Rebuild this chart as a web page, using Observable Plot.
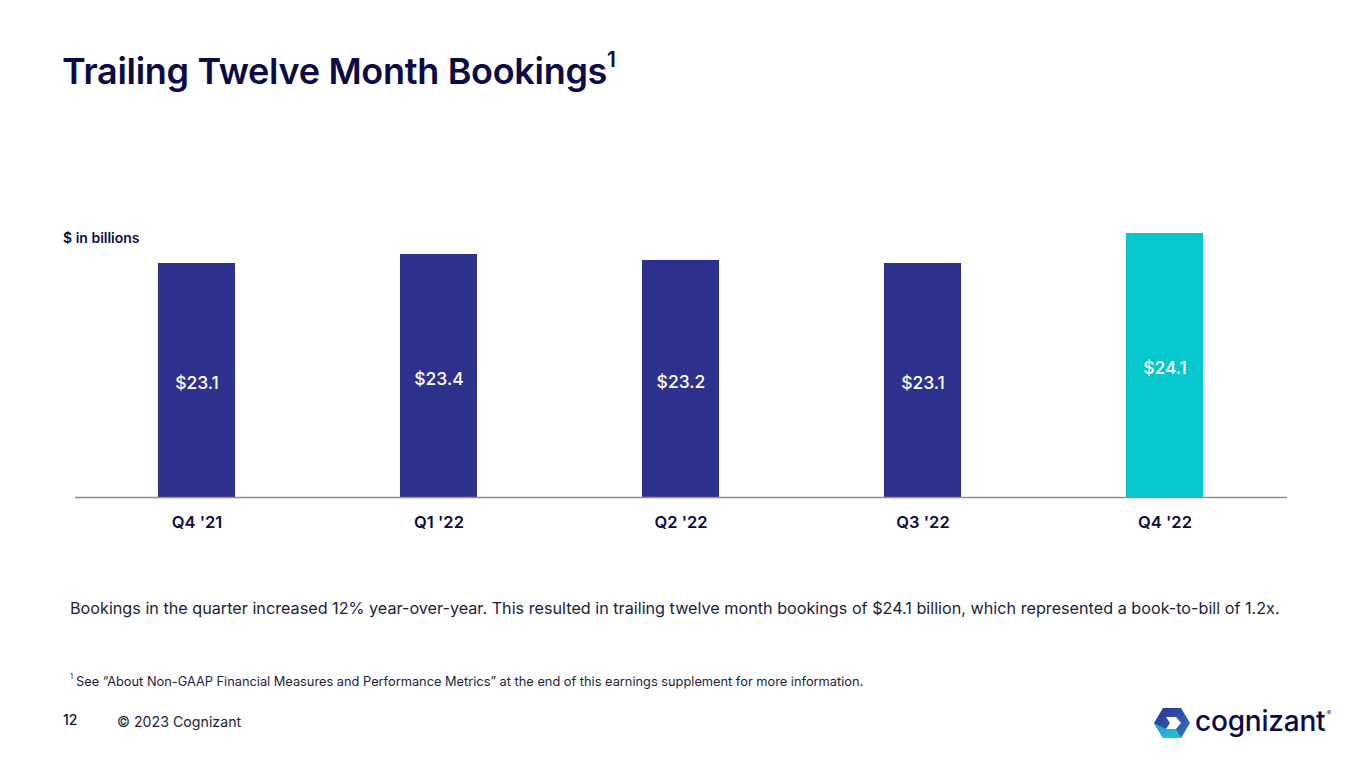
<!DOCTYPE html>
<html>
<head>
<meta charset="utf-8">
<script src="https://cdn.jsdelivr.net/npm/d3@7"></script>
<script src="https://cdn.jsdelivr.net/npm/@observablehq/plot@0.6"></script>
<style>
  html, body { margin: 0; padding: 0; background: #fff; }
  body { width: 1365px; height: 768px; position: relative; overflow: hidden; font-family: Inter, "Noto Sans", sans-serif; color: #0b0b45; }
  .abs { position: absolute; white-space: nowrap; }
  #title { left: 62px; top: 49px; font-size: 36px; font-weight: 600; letter-spacing: -0.3px; color: #0b0b45; }
  #title sup { font-size: 21px; position: relative; top: -4px; }
  #unit { left: 63px; top: 229px; font-size: 14px; font-weight: 600; color: #0b0b45; }
  #chart { left: 0; top: 200px; }
  #caption { left: 70px; top: 598px; font-size: 16.2px; color: #1d1d3a; }
  #foot { left: 70px; top: 674px; font-size: 12.8px; color: #1d1d3a; }
  #foot sup { font-size: 7.5px; position: relative; top: -2px; margin-right: 3px; }
  #page { left: 63px; top: 711px; font-size: 14px; font-weight: 500; color: #0b0b45; }
  #copy { left: 117px; top: 713px; font-size: 14.2px; color: #1d1d3a; }
  #logo { left: 1154px; top: 705px; }
</style>
</head>
<body>
<div class="abs" id="title">Trailing Twelve Month Bookings<sup>1</sup></div>
<div class="abs" id="unit">$ in billions</div>
<div class="abs" id="chart"></div>
<div class="abs" id="caption">Bookings in the quarter increased 12% year-over-year. This resulted in trailing twelve month bookings of $24.1 billion, which represented a book-to-bill of 1.2x.</div>
<div class="abs" id="foot"><sup>1</sup>See “About Non-GAAP Financial Measures and Performance Metrics” at the end of this earnings supplement for more information.</div>
<div class="abs" id="page">12</div>
<div class="abs" id="copy">© 2023 Cognizant</div>
<div class="abs" id="logo">
  <svg width="185" height="36" viewBox="0 0 185 36">
    <defs>
      <linearGradient id="lg1" x1="0" y1="0" x2="1" y2="1">
        <stop offset="0" stop-color="#2e308e"/>
        <stop offset="1" stop-color="#2f78c4"/>
      </linearGradient>
      <linearGradient id="lg2" x1="0" y1="0" x2="1" y2="1">
        <stop offset="0" stop-color="#1e9bd7"/>
        <stop offset="1" stop-color="#26c6d0"/>
      </linearGradient>
    </defs>
    <polygon points="9,3 27,3 36,18 27,33 9,33 0,18" fill="url(#lg1)"/>
    <polygon points="0,18 9,33 27,33 22,24 12,24" fill="url(#lg2)"/>
    <polygon points="12,12 22,12 27,18 22,24 12,24 16,18" fill="#ffffff"/>
    <text x="41" y="26" font-family="Inter, 'Noto Sans', sans-serif" font-size="28" font-weight="500" fill="#0b0b45" letter-spacing="-0.2">cognizant</text>
    <text x="173" y="10" font-family="Inter, sans-serif" font-size="6" fill="#0b0b45">®</text>
  </svg>
</div>
<script>
const quarters = ["Q4 '21", "Q1 '22", "Q2 '22", "Q3 '22", "Q4 '22"];
const bookings = [23.1, 23.4, 23.2, 23.1, 24.1];
const barColors = ["#2e308e", "#2e308e", "#2e308e", "#2e308e", "#06c7cc"];
const axisBase = 15.3; // value at the chart baseline (axis not drawn from zero)

const data = quarters.map((q, i) => ({ q, v: bookings[i], c: barColors[i] }));

const chart = Plot.plot({
  width: 1365,
  height: 360,
  marginLeft: 75,
  marginRight: 78,
  marginTop: 33,
  marginBottom: 63,
  style: { fontFamily: "Inter, 'Noto Sans', sans-serif", background: "transparent" },
  x: { domain: quarters, paddingInner: 0.68, paddingOuter: 0.34, label: null },
  y: { domain: [axisBase, d3.max(bookings)], axis: null },
  marks: [
    Plot.barY(data, { x: "q", y1: axisBase, y2: "v", fill: "c" }),
    Plot.ruleY([axisBase], { stroke: "#8c8c96", strokeWidth: 1.5 }),
    Plot.text(data, {
      x: "q",
      y: d => (d.v + axisBase) / 2,
      dy: 3,
      text: d => "$" + d.v.toFixed(1),
      fill: "#ffffff",
      fontSize: 17.5,
      fontWeight: 500
    }),
    Plot.axisX({ tickSize: 0, tickPadding: 19, fontSize: 16.5, fontWeight: 600, fill: "#0b0b45", label: null })
  ]
});
document.getElementById("chart").appendChild(chart);
</script>
</body>
</html>
